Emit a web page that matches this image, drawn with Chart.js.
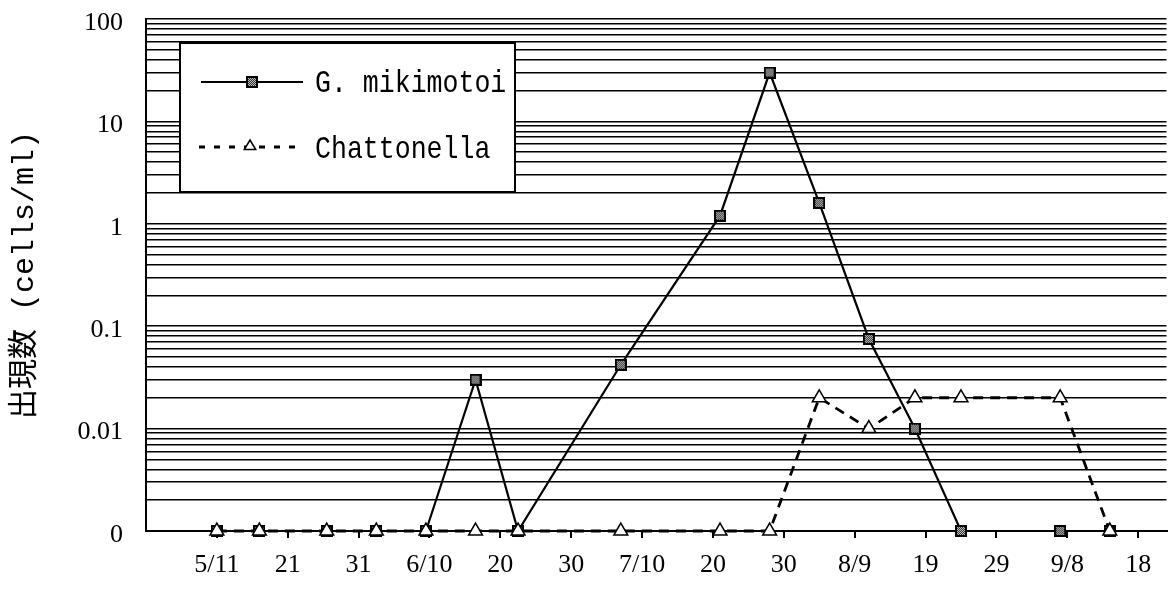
<!DOCTYPE html>
<html>
<head>
<meta charset="utf-8">
<script src="https://cdn.jsdelivr.net/npm/chart.js@4.4.1/dist/chart.umd.min.js"></script>
<style>
    html, body { margin: 0; padding: 0; background: #fff; }
</style>
</head>
<body>
<canvas id="cellChart" width="1176" height="592"></canvas>
<script>
// sampling days, counted from 5/1
const sampleDays = [10, 16, 25.5, 32.5, 39.5, 46.5, 52.5, 67, 81, 88, 95, 102, 108.5, 115, 129, 136];
// cells/ml, 0 = not detected (drawn on the "0" line)
const mikimotoi = [0, 0, 0, 0, 0, 0.03, 0, 0.042, 1.2, 30, 1.6, 0.075, 0.01, 0, 0, 0];
const chattonella = [0, 0, 0, 0, 0, 0, 0, 0, 0, 0, 0.02, 0.01, 0.02, 0.02, 0.02, 0];

const xTickDays = [10, 20, 30, 40, 50, 60, 70, 80, 90, 100, 110, 120, 130, 140];
const xTickLabels = ['5/11', '21', '31', '6/10', '20', '30', '7/10', '20', '30', '8/9', '19', '29', '9/8', '18'];
const yDecades = [0.001, 0.01, 0.1, 1, 10, 100];
const yDecadeLabels = ['0', '0.01', '0.1', '1', '10', '100'];
const ZERO_LEVEL = 0.001;

const seriesNames = ['G. mikimotoi', 'Chattonella'];

function toPoints(values) {
    return values.map((v, i) => ({ x: sampleDays[i], y: v > 0 ? v : ZERO_LEVEL }));
}

// checkered square used for G. mikimotoi
function makeSquareMarker() {
    const c = document.createElement('canvas');
    c.width = 12;
    c.height = 12;
    const g = c.getContext('2d');
    g.fillStyle = '#000';
    g.fillRect(0, 0, 12, 12);
    g.fillStyle = '#333';
    g.fillRect(2, 2, 8, 8);
    g.fillStyle = '#bbb';
    for (let i = 2; i < 10; i++) {
        for (let j = 2; j < 10; j++) {
            if ((i + j) % 2 === 0) g.fillRect(i, j, 1, 1);
        }
    }
    return c;
}
const squareMarker = makeSquareMarker();

function drawTriangle(ctx, cx, cy, r) {
    ctx.beginPath();
    ctx.moveTo(cx, cy - r);
    ctx.lineTo(cx + r * 0.95, cy + r * 0.6);
    ctx.lineTo(cx - r * 0.95, cy + r * 0.6);
    ctx.closePath();
    ctx.fillStyle = '#fff';
    ctx.fill();
    ctx.lineWidth = 1.5;
    ctx.strokeStyle = '#000';
    ctx.stroke();
}

function drawNarrowText(ctx, text, x, y) {
    ctx.save();
    ctx.translate(x, y);
    ctx.scale(0.83, 1);
    ctx.font = '32px "Liberation Mono"';
    ctx.fillStyle = '#000';
    ctx.textBaseline = 'middle';
    ctx.fillText(text, 0, 0);
    ctx.restore();
}

// boxed legend in the upper left of the plot
const boxLegend = {
    id: 'boxLegend',
    afterDraw(chart) {
        const ctx = chart.ctx;
        ctx.save();
        ctx.fillStyle = '#fff';
        ctx.fillRect(180, 43, 335, 149);
        ctx.lineWidth = 2;
        ctx.strokeStyle = '#000';
        ctx.strokeRect(180, 43, 335, 149);

        // row 1: solid line + square
        ctx.beginPath();
        ctx.moveTo(201, 82);
        ctx.lineTo(303, 82);
        ctx.lineWidth = 2.2;
        ctx.stroke();
        ctx.drawImage(squareMarker, 246, 76);
        drawNarrowText(ctx, seriesNames[0], 315, 84);

        // row 2: dashed line + triangle
        ctx.beginPath();
        ctx.setLineDash([6, 9]);
        ctx.moveTo(199, 147);
        ctx.lineTo(298, 147);
        ctx.lineWidth = 2.8;
        ctx.stroke();
        ctx.setLineDash([]);
        drawTriangle(ctx, 250, 146, 6);
        drawNarrowText(ctx, seriesNames[1], 315, 150);
        ctx.restore();
    }
};

const ctx = document.getElementById('cellChart').getContext('2d');

new Chart(ctx, {
    type: 'line',
    data: {
        datasets: [{
            label: seriesNames[0],
            data: toPoints(mikimotoi),
            borderColor: '#000',
            borderWidth: 2.2,
            pointStyle: squareMarker,
            pointRadius: 6,
            order: 1,
            clip: false
        }, {
            label: seriesNames[1],
            data: toPoints(chattonella),
            borderColor: '#000',
            borderWidth: 2.8,
            borderDash: [10, 7],
            pointStyle: 'triangle',
            pointRadius: 8,
            pointBackgroundColor: '#fff',
            pointBorderColor: '#000',
            pointBorderWidth: 1.5,
            order: 0,
            clip: false
        }]
    },
    options: {
        responsive: false,
        animation: false,
        devicePixelRatio: 1,
        layout: {
            padding: { top: 19, right: 8, left: 0, bottom: 0 }
        },
        plugins: {
            legend: { display: false },
            tooltip: { enabled: false }
        },
        scales: {
            x: {
                type: 'linear',
                min: 0,
                max: 144,
                afterBuildTicks: scale => {
                    scale.ticks = xTickDays.map(v => ({ value: v }));
                },
                afterFit: scale => {
                    scale.height = 61;
                },
                ticks: {
                    autoSkip: false,
                    maxRotation: 0,
                    padding: 12,
                    color: '#000',
                    font: { family: '"Liberation Serif"', size: 26 },
                    callback: (value, index) => xTickLabels[index]
                },
                grid: {
                    drawOnChartArea: false,
                    drawTicks: true,
                    tickLength: 7,
                    color: '#000',
                    lineWidth: 2
                },
                border: { color: '#000', width: 2 }
            },
            y: {
                type: 'logarithmic',
                min: 0.001,
                max: 100,
                afterBuildTicks: scale => {
                    const ticks = [];
                    for (let d = 0; d < yDecades.length - 1; d++) {
                        for (let k = 1; k <= 9; k++) {
                            ticks.push({ value: yDecades[d] * k });
                        }
                    }
                    ticks.push({ value: yDecades[yDecades.length - 1] });
                    scale.ticks = ticks;
                },
                afterFit: scale => {
                    scale.width = 146;
                    scale.paddingTop = 0;
                    scale.paddingBottom = 0;
                },
                ticks: {
                    autoSkip: false,
                    padding: 23,
                    labelOffset: 4,
                    color: '#000',
                    font: { family: '"Liberation Serif"', size: 26 },
                    callback: value => {
                        const idx = yDecades.findIndex(d => Math.abs(d - value) < d * 1e-6);
                        return idx >= 0 ? yDecadeLabels[idx] : '';
                    }
                },
                grid: {
                    color: '#000',
                    lineWidth: 1.6,
                    drawTicks: false
                },
                border: { color: '#000', width: 2 },
                title: {
                    display: true,
                    text: '出現数 (cells/ml)',
                    color: '#000',
                    font: { family: '"Liberation Mono", "Noto Sans CJK JP"', size: 30 },
                    padding: { top: 7, bottom: 0 }
                }
            }
        }
    },
    plugins: [boxLegend]
});
</script>
</body>
</html>
